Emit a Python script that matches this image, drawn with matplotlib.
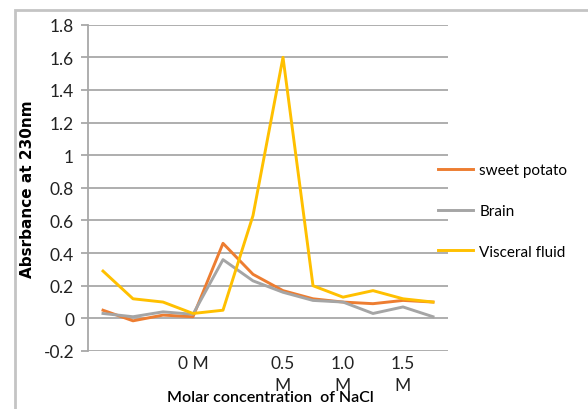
import matplotlib.pyplot as plt
from matplotlib.patches import Rectangle

plt.rcParams['font.family'] = ['Lato', 'DejaVu Sans']

# 12 sampling points along the NaCl gradient
categories = list(range(12))
tick_labels = ['', '', '', '0 M', '', '', '0.5\nM', '', '1.0\nM', '', '1.5\nM', '']

sweet_potato = [0.05, -0.015, 0.02, 0.01, 0.46, 0.27, 0.17, 0.12, 0.10, 0.09, 0.11, 0.10]
brain = [0.03, 0.01, 0.04, 0.025, 0.36, 0.23, 0.16, 0.11, 0.10, 0.03, 0.07, 0.01]
visceral = [0.29, 0.12, 0.10, 0.03, 0.05, 0.63, 1.60, 0.20, 0.13, 0.17, 0.12, 0.10]

fig = plt.figure(figsize=(5.88, 4.10), dpi=100)
ax = fig.add_axes([88/588, 1-352/410, 360/588, (352-25.7)/410])

ax.plot(categories, sweet_potato, color='#ED7D31', lw=2.1, label='sweet potato', zorder=3)
ax.plot(categories, brain, color='#A5A5A5', lw=2.1, label='Brain', zorder=3)
ax.plot(categories, visceral, color='#FFC000', lw=2.1, label='Visceral fluid', zorder=4)

ax.set_xlim(-0.5, 11.5)
ax.set_ylim(-0.2, 1.8)
ax.set_yticks([-0.2, 0, 0.2, 0.4, 0.6, 0.8, 1, 1.2, 1.4, 1.6, 1.8])
ax.set_yticklabels(['-0.2', '0', '0.2', '0.4', '0.6', '0.8', '1', '1.2', '1.4', '1.6', '1.8'])
ax.set_xticks(categories)
ax.set_xticklabels(tick_labels, linespacing=1.45)
ax.grid(axis='y', color='#a8a8a8', lw=1.3)
ax.set_axisbelow(True)
for s in ['top', 'right', 'bottom']:
    ax.spines[s].set_visible(False)
ax.spines['left'].set_color('#a8a8a8')
ax.spines['left'].set_linewidth(1.3)
ax.tick_params(axis='y', length=5, color='#a8a8a8', width=1.3, labelsize=12.5, pad=5, labelcolor='#222222')
ax.tick_params(axis='x', length=0, labelsize=12.5, pad=3, labelcolor='#222222')
for t in ax.get_xticklabels():
    t.set_verticalalignment('top')

ax.set_ylabel('Absrbance at 230nm', fontsize=11, fontweight='bold', labelpad=6,
              family='DejaVu Sans')
fig.text(270/588, 1-398/410, 'Molar concentration  of NaCl', fontsize=11.5,
         ha='center', va='center', color='#000000', fontweight='semibold')

fig.legend(loc='center left', bbox_to_anchor=(438/588, 1-212/410), frameon=False,
           fontsize=11, handlelength=2.3, handletextpad=0.4, labelspacing=1.75,
           borderpad=0, borderaxespad=0)

# outer chart frame
fig.patches.append(Rectangle((15/588, -0.1), 1.2, 1-11/410+0.1, transform=fig.transFigure,
                             fill=False, ec='#c4c4c4', lw=2))

fig.savefig('out.png', dpi=100)
